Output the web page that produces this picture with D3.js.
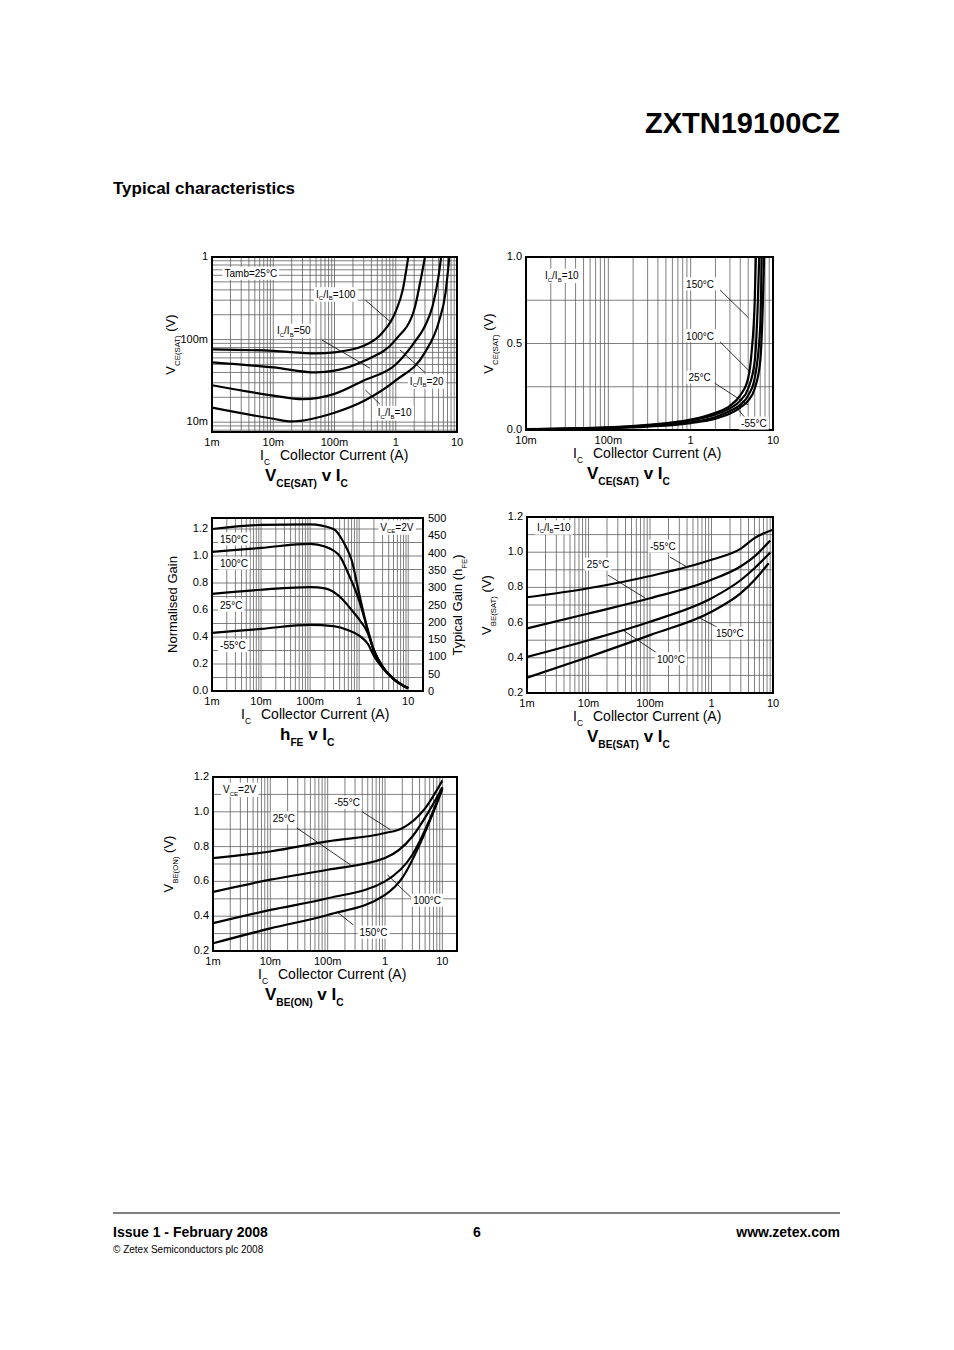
<!DOCTYPE html>
<html>
<head>
<meta charset="utf-8">
<script src="https://cdn.jsdelivr.net/npm/d3@7"></script>
<style>
  body { margin: 0; background: #fff; }
  text { font-family: "Liberation Sans", Arial, sans-serif; fill: #000; }
</style>
</head>
<body>
<div id="page"></div>
<script>
// VCE(SAT) v IC, Tamb=25C, by IC/IB
var sat100 = [[0.001,0.076],[0.01,0.073],[0.05,0.068],[0.1,0.07],[0.3,0.084],[0.6,0.12],[1,0.22],[1.3,0.4],[1.6,1.0]];
var sat50  = [[0.001,0.053],[0.01,0.046],[0.05,0.040],[0.1,0.042],[0.3,0.055],[1,0.1],[2,0.23],[2.5,0.49],[3,1.0]];
var sat20  = [[0.001,0.028],[0.01,0.021],[0.03,0.019],[0.1,0.022],[0.3,0.032],[1,0.05],[2,0.092],[3,0.146],[4,0.255],[5,0.585],[5.5,1.0]];
var sat10  = [[0.001,0.015],[0.01,0.011],[0.02,0.0102],[0.1,0.013],[0.3,0.018],[1,0.032],[3,0.07],[5,0.16],[6.5,0.37],[7.5,1.0]];

// VCE(SAT) v IC, IC/IB=10, by temperature
var satT150 = [[0.01,0.005],[0.1,0.015],[0.3,0.03],[1,0.06],[2,0.1],[3,0.14],[4,0.2],[5,0.3],[5.5,0.45],[6,0.75],[6.2,1.0]];
var satT100 = [[0.01,0.005],[0.1,0.014],[0.3,0.027],[1,0.055],[2,0.09],[3,0.125],[4,0.17],[5,0.24],[6,0.4],[6.5,0.7],[6.8,1.0]];
var satT25  = [[0.01,0.004],[0.1,0.012],[0.3,0.023],[1,0.045],[2,0.075],[3,0.11],[4,0.145],[5,0.2],[6,0.3],[7,0.6],[7.3,1.0]];
var satTm55 = [[0.01,0.004],[0.1,0.011],[0.3,0.02],[1,0.04],[2,0.065],[3,0.095],[4,0.13],[5,0.17],[6,0.24],[7,0.4],[7.5,0.7],[7.8,1.0]];

// hFE v IC (normalised gain), VCE=2V
var hfe150 = [[0.001,1.20],[0.01,1.23],[0.1,1.235],[0.3,1.20],[0.5,1.09],[0.7,0.97],[1,0.72],[1.5,0.45],[2,0.30],[3,0.18],[5,0.09],[10,0.02]];
var hfe100 = [[0.001,1.03],[0.01,1.06],[0.1,1.09],[0.2,1.07],[0.4,1.0],[0.6,0.87],[1,0.67],[1.5,0.45],[2,0.30],[3,0.18],[5,0.09],[10,0.02]];
var hfe25  = [[0.001,0.72],[0.01,0.75],[0.1,0.77],[0.2,0.76],[0.4,0.70],[0.7,0.60],[1,0.53],[1.5,0.43],[2,0.30],[3,0.18],[5,0.09],[10,0.02]];
var hfem55 = [[0.001,0.43],[0.01,0.46],[0.1,0.49],[0.3,0.48],[0.6,0.45],[1,0.41],[1.5,0.35],[2,0.26],[3,0.17],[5,0.09],[10,0.02]];

// VBE(SAT) v IC, IC/IB=10
var besm55 = [[0.001,0.744],[0.01,0.795],[0.1,0.865],[1,0.957],[3,1.02],[5,1.08],[10,1.128]];
var bes25  = [[0.001,0.567],[0.01,0.652],[0.1,0.738],[1,0.843],[3,0.92],[5,0.976],[9,1.067]];
var bes100 = [[0.001,0.405],[0.01,0.50],[0.1,0.605],[1,0.738],[3,0.842],[5,0.909],[9,0.998]];
var bes150 = [[0.001,0.287],[0.01,0.405],[0.1,0.529],[1,0.662],[3,0.767],[5,0.842],[8.5,0.937]];

// VBE(ON) v IC, VCE=2V
var beonm55 = [[0.001,0.734],[0.01,0.772],[0.1,0.83],[1,0.878],[2,0.906],[5,1.02],[10,1.18]];
var beon25  = [[0.001,0.54],[0.01,0.61],[0.1,0.667],[1,0.734],[3,0.858],[6,1.01],[10,1.14]];
var beon100 = [[0.001,0.36],[0.01,0.436],[0.1,0.503],[1,0.60],[3,0.753],[6,0.954],[10,1.14]];
var beon150 = [[0.001,0.244],[0.01,0.33],[0.1,0.407],[1,0.522],[2,0.62],[4,0.81],[7,1.0],[10,1.13]];

var logTicks = [0.001, 0.01, 0.1, 1, 10];
var logTickLabels = ["1m", "10m", "100m", "1", "10"];

var svg = d3.select("#page").append("svg").attr("width", 954).attr("height", 1350);

// text with "_X" subscripts ("_{..}" for several chars)
function richText(g, x, y, str, size, opts) {
  opts = opts || {};
  var t = g.append("text").attr("x", x).attr("y", y)
    .style("font-size", size + "px")
    .style("font-weight", opts.bold ? "bold" : "normal")
    .attr("text-anchor", opts.anchor || "start")
    .attr("dominant-baseline", opts.baseline || "auto");
  if (opts.transform) t.attr("transform", opts.transform);
  var re = /_\{([^}]*)\}|_(.)/g, last = 0, m;
  while ((m = re.exec(str)) !== null) {
    if (m.index > last) t.append("tspan").text(str.slice(last, m.index));
    var sub = m[1] !== undefined ? m[1] : m[2];
    t.append("tspan").text(sub).attr("dy", size * 0.35).style("font-size", (size * 0.6) + "px");
    t.append("tspan").text("\u200b").attr("dy", -size * 0.35);
    last = re.lastIndex;
  }
  if (last < str.length) t.append("tspan").text(str.slice(last));
  return t;
}

function chart(cfg) {
  var g = svg.append("g");
  var x = d3.scaleLog().domain(cfg.xDomain).range([cfg.left, cfg.right]);
  var y = (cfg.yLog ? d3.scaleLog() : d3.scaleLinear()).domain(cfg.yDomain).range([cfg.bottom, cfg.top]);
  var id = "clip" + Math.round(cfg.left) + Math.round(cfg.top);
  g.append("clipPath").attr("id", id).append("rect")
    .attr("x", cfg.left).attr("y", cfg.top).attr("width", cfg.right - cfg.left).attr("height", cfg.bottom - cfg.top);

  // grid - x (1..9 per decade)
  var xg = [];
  for (var e = -3; e <= 2; e++) for (var k = 1; k <= 9; k++) {
    var v = k * Math.pow(10, e);
    if (v > cfg.xDomain[0] * 1.0001 && v < cfg.xDomain[1] * 0.9999) xg.push(v);
  }
  g.append("g").selectAll("line").data(xg).enter().append("line")
    .attr("x1", function(d) { return x(d); }).attr("x2", function(d) { return x(d); })
    .attr("y1", cfg.top).attr("y2", cfg.bottom)
    .style("stroke", "#5e5e5e").style("stroke-width", 0.8);
  var yg = [];
  if (cfg.yLog) {
    for (var e2 = -3; e2 <= 0; e2++) for (var k2 = 1; k2 <= 9; k2++) {
      var v2 = k2 * Math.pow(10, e2);
      if (v2 > cfg.yDomain[0] && v2 < cfg.yDomain[1]) yg.push(v2);
    }
  } else {
    yg = d3.range(cfg.yDomain[0] + cfg.yGrid, cfg.yDomain[1] - 1e-6, cfg.yGrid);
  }
  g.append("g").selectAll("line").data(yg).enter().append("line")
    .attr("y1", function(d) { return y(d); }).attr("y2", function(d) { return y(d); })
    .attr("x1", cfg.left).attr("x2", cfg.right)
    .style("stroke", "#5e5e5e").style("stroke-width", 0.8);

  // curves
  var line = d3.line().x(function(d) { return x(d[0]); }).y(function(d) { return y(d[1]); })
    .curve(d3.curveMonotoneX);
  g.append("g").attr("clip-path", "url(#" + id + ")").selectAll("path").data(cfg.series).enter().append("path")
    .attr("d", line).style("fill", "none").style("stroke", "#000").style("stroke-width", 2.2);

  // frame
  g.append("rect").attr("x", cfg.left).attr("y", cfg.top)
    .attr("width", cfg.right - cfg.left).attr("height", cfg.bottom - cfg.top)
    .style("fill", "none").style("stroke", "#000").style("stroke-width", 2);

  // x tick labels
  g.append("g").selectAll("text").data(logTicks.filter(function(d) { return d >= cfg.xDomain[0] * 0.999 && d <= 10; }))
    .enter().append("text")
    .attr("x", function(d) { return x(d); }).attr("y", cfg.bottom + 14)
    .attr("text-anchor", "middle").style("font-size", "11px")
    .text(function(d) { return logTickLabels[logTicks.indexOf(d)]; });
  // y tick labels
  g.append("g").selectAll("text").data(cfg.yTicks).enter().append("text")
    .attr("x", cfg.left - 4).attr("y", function(d) { return y(d[0]) + 3; })
    .attr("text-anchor", "end").style("font-size", "11px")
    .text(function(d) { return d[1]; });

  // annotations
  (cfg.notes || []).forEach(function(n) {
    if (n.line) {
      g.append("line").attr("x1", x(n.line[0])).attr("y1", y(n.line[1]))
        .attr("x2", x(n.line[2])).attr("y2", y(n.line[3]))
        .style("stroke", "#000").style("stroke-width", 0.8);
    }
    var t = richText(g, x(n.at[0]), y(n.at[1]), n.text, 10, { baseline: "middle" });
    var bb = t.node().getBBox();
    g.insert("rect", function() { return t.node(); })
      .attr("x", bb.x - 2).attr("y", bb.y - 1).attr("width", bb.width + 4).attr("height", bb.height + 2)
      .style("fill", "#fff");
  });

  // axis titles
  richText(g, cfg.xLabelX, cfg.bottom + 28, "I_C", 14);
  g.append("text").attr("x", cfg.xLabelX + 20).attr("y", cfg.bottom + 28).style("font-size", "14px")
    .text("Collector Current (A)");
  richText(g, cfg.titleX, cfg.bottom + 49, cfg.title, 17, { bold: true });
  var yc = (cfg.top + cfg.bottom) / 2;
  richText(g, cfg.yLabelX, yc, cfg.yLabel, 13,
    { anchor: "middle", transform: "rotate(-90," + cfg.yLabelX + "," + yc + ")" });
  return { g: g, x: x, y: y };
}

// page header
svg.append("text").attr("x", 840).attr("y", 133).attr("text-anchor", "end")
  .style("font-size", "29px").style("font-weight", "bold").text("ZXTN19100CZ");
svg.append("text").attr("x", 113).attr("y", 194)
  .style("font-size", "17px").style("font-weight", "bold").text("Typical characteristics");

// 1. VCE(SAT) v IC by IC/IB
chart({
  left: 212, right: 457, top: 257, bottom: 432,
  xDomain: [0.001, 10], yDomain: [0.0076, 1], yLog: true,
  yTicks: [[1, "1"], [0.1, "100m"], [0.01, "10m"]],
  series: [sat100, sat50, sat20, sat10],
  notes: [
    { text: "Tamb=25°C", at: [0.0016, 0.62] },
    { text: "I_C/I_B=100", at: [0.05, 0.35], line: [0.32, 0.3, 0.85, 0.16] },
    { text: "I_C/I_B=50", at: [0.0115, 0.127], line: [0.062, 0.099, 0.38, 0.045] },
    { text: "I_C/I_B=20", at: [1.7, 0.031], line: [3.0, 0.04, 1.17, 0.075] },
    { text: "I_C/I_B=10", at: [0.51, 0.0128], line: [0.55, 0.0165, 0.32, 0.0245] }
  ],
  xLabelX: 260, titleX: 265, title: "V_{CE(SAT)} v I_C", yLabelX: 175, yLabel: "V_{CE(SAT)} (V)"
});

// 2. VCE(SAT) v IC by temperature
chart({
  left: 526, right: 773, top: 257, bottom: 430,
  xDomain: [0.01, 10], yDomain: [0, 1], yGrid: 0.25,
  yTicks: [[0, "0.0"], [0.5, "0.5"], [1, "1.0"]],
  series: [satT150, satT100, satT25, satTm55],
  notes: [
    { text: "I_C/I_B=10", at: [0.017, 0.89] },
    { text: "150°C", at: [0.88, 0.84], line: [2.27, 0.81, 5.0, 0.65] },
    { text: "100°C", at: [0.88, 0.54], line: [2.27, 0.51, 5.3, 0.335] },
    { text: "25°C", at: [0.94, 0.30], line: [1.97, 0.27, 5.0, 0.145] },
    { text: "-55°C", at: [4.1, 0.035], line: [4.6, 0.07, 3.6, 0.13] }
  ],
  xLabelX: 573, titleX: 587, title: "V_{CE(SAT)} v I_C", yLabelX: 493, yLabel: "V_{CE(SAT)} (V)"
});

// 3. hFE v IC
var c3 = chart({
  left: 212, right: 423, top: 518, bottom: 691,
  xDomain: [0.001, 20], yDomain: [0, 1.2815], yGrid: 0.1,
  yTicks: [[0, "0.0"], [0.2, "0.2"], [0.4, "0.4"], [0.6, "0.6"], [0.8, "0.8"], [1.0, "1.0"], [1.2, "1.2"]],
  series: [hfe150, hfe100, hfe25, hfem55],
  notes: [
    { text: "150°C", at: [0.00146, 1.12] },
    { text: "100°C", at: [0.00146, 0.94] },
    { text: "25°C", at: [0.00146, 0.63] },
    { text: "-55°C", at: [0.00146, 0.33] },
    { text: "V_{CE}=2V", at: [2.7, 1.21] }
  ],
  xLabelX: 241, titleX: 280, title: "h_{FE} v I_C", yLabelX: 177, yLabel: "Normalised Gain"
});
var hfeRight = d3.scaleLinear().domain([0, 500]).range([691, 518]);
c3.g.append("g").selectAll("text").data(d3.range(0, 501, 50)).enter().append("text")
  .attr("x", 428).attr("y", function(d) { return hfeRight(d) + 4; })
  .style("font-size", "11px").text(function(d) { return d; });
richText(c3.g, 462, 605, "Typical Gain (h_{FE})", 13, { anchor: "middle", transform: "rotate(-90,462,605)" });

// 4. VBE(SAT) v IC
chart({
  left: 527, right: 773, top: 517, bottom: 693,
  xDomain: [0.001, 10], yDomain: [0.2, 1.2], yGrid: 0.1,
  yTicks: [[0.2, "0.2"], [0.4, "0.4"], [0.6, "0.6"], [0.8, "0.8"], [1.0, "1.0"], [1.2, "1.2"]],
  series: [besm55, bes25, bes100, bes150],
  notes: [
    { text: "I_C/I_B=10", at: [0.00145, 1.14] },
    { text: "-55°C", at: [0.1, 1.03], line: [0.21, 0.973, 0.4, 0.916] },
    { text: "25°C", at: [0.0094, 0.927], line: [0.0207, 0.87, 0.083, 0.74] },
    { text: "150°C", at: [1.18, 0.535], line: [0.6, 0.632, 1.5, 0.558] },
    { text: "100°C", at: [0.13, 0.39], line: [0.036, 0.558, 0.13, 0.427] }
  ],
  xLabelX: 573, titleX: 587, title: "V_{BE(SAT)} v I_C", yLabelX: 491, yLabel: "V_{BE(SAT)} (V)"
});

// 5. VBE(ON) v IC
chart({
  left: 213, right: 457, top: 777, bottom: 951,
  xDomain: [0.001, 18], yDomain: [0.2, 1.2], yGrid: 0.1,
  yTicks: [[0.2, "0.2"], [0.4, "0.4"], [0.6, "0.6"], [0.8, "0.8"], [1.0, "1.0"], [1.2, "1.2"]],
  series: [beonm55, beon25, beon100, beon150],
  notes: [
    { text: "V_{CE}=2V", at: [0.0015, 1.125] },
    { text: "-55°C", at: [0.13, 1.05], line: [0.40, 1.0, 1.24, 0.897] },
    { text: "25°C", at: [0.011, 0.96], line: [0.029, 0.907, 0.25, 0.695] },
    { text: "100°C", at: [3.1, 0.487], line: [2.8, 0.51, 1.1, 0.637] },
    { text: "150°C", at: [0.36, 0.303], line: [0.28, 0.35, 0.146, 0.424] }
  ],
  xLabelX: 258, titleX: 265, title: "V_{BE(ON)} v I_C", yLabelX: 173, yLabel: "V_{BE(ON)} (V)"
});

// footer
svg.append("line").attr("x1", 113).attr("x2", 840).attr("y1", 1213).attr("y2", 1213)
  .style("stroke", "#000").style("stroke-width", 1.2);
svg.append("text").attr("x", 113).attr("y", 1237).style("font-size", "14px").style("font-weight", "bold")
  .text("Issue 1 - February 2008");
svg.append("text").attr("x", 477).attr("y", 1237).attr("text-anchor", "middle")
  .style("font-size", "14px").style("font-weight", "bold").text("6");
svg.append("text").attr("x", 840).attr("y", 1237).attr("text-anchor", "end")
  .style("font-size", "14px").style("font-weight", "bold").text("www.zetex.com");
svg.append("text").attr("x", 113).attr("y", 1253).style("font-size", "10px")
  .text("© Zetex Semiconductors plc 2008");
</script>
</body>
</html>
